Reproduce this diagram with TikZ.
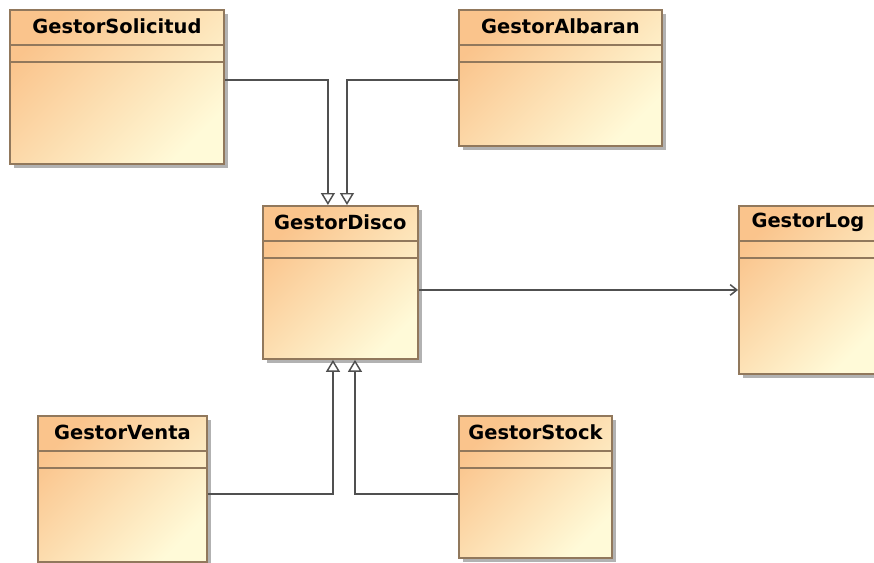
\documentclass[tikz,border=0pt]{standalone}
\usepackage{fontspec}
\setmainfont{DejaVu Sans}
\usetikzlibrary{arrows.meta,shadows,calc}
\definecolor{boxtop}{RGB}{250,196,140}
\definecolor{boxbot}{RGB}{255,250,216}
\definecolor{boxline}{RGB}{145,120,92}
\definecolor{conn}{RGB}{80,80,80}
\tikzset{
  umlbox/.style={draw=boxline, line width=1.4pt, top color=boxtop, bottom color=boxbot,
    shading angle=45, anchor=north west, inner sep=0pt,
    drop shadow={shadow xshift=3pt, shadow yshift=-3pt, fill=black!30, opacity=1}},
  umltitle/.style={inner sep=0pt, font=\bfseries\fontsize{14.6pt}{17pt}\selectfont},
  compline/.style={draw=boxline, line width=1.3pt},
  gen/.style={draw=conn, line width=1.1pt, -{Triangle[open, length=9pt, width=10.5pt, fill=white]}},
  dep/.style={draw=conn, line width=1.1pt, -{Straight Barb[length=5pt, width=8pt]}}
}
\newcommand\umlclass[6]{%
  \node[umlbox, minimum width={(#4-#2)*0.75pt}, minimum height={(#5-#3)*0.75pt}] (#1) at (#2,#3) {};
  \node[umltitle] (#1-t) at ([yshift=-13.1pt]#1.north) {#6};
  \draw[compline] ([yshift=-27pt]#1.north west) -- ([yshift=-27pt]#1.north east);
  \draw[compline] ([yshift=-40pt]#1.north west) -- ([yshift=-40pt]#1.north east);
}
\begin{document}
\begin{tikzpicture}[x=0.75pt,y=-0.75pt]
  \useasboundingbox (0,0) rectangle (874,562);
  \clip (0,0) rectangle (874,562);
  \fill[white] (0,0) rectangle (874,562);
  \umlclass{sol}{9}{9}{223}{163}{GestorSolicitud}
  \umlclass{alb}{458}{9}{661}{145}{GestorAlbaran}
  \umlclass{dis}{262}{205}{417}{358}{GestorDisco}
  \umlclass{log}{738}{205}{876}{373}{GestorLog}
  \umlclass{ven}{37}{415}{206}{561}{GestorVenta}
  \umlclass{sto}{458}{415}{611}{557}{GestorStock}
  \coordinate (albw) at ([yshift=-1.5pt]alb.west);
  \draw[gen] (sol.east |- albw) -| ([xshift=-9.4pt]dis.north);
  \draw[gen] (albw) -| ([xshift=4.9pt]dis.north);
  \draw[dep] (dis.east |- log.west) -- (log.west);
  \draw[gen] ([yshift=-3.75pt]ven.east) -| ([xshift=-5.6pt]dis.south);
  \draw[gen] ([yshift=-5.25pt]sto.west) -| ([xshift=10.9pt]dis.south);
\end{tikzpicture}
\end{document}
